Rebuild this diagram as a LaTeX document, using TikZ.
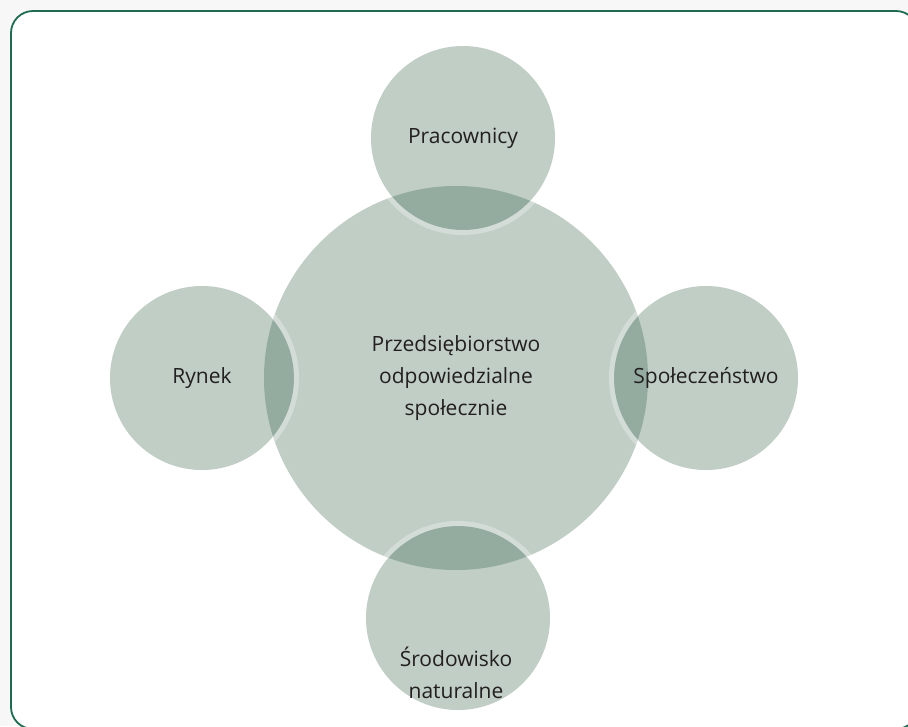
\documentclass[tikz,border=0pt]{standalone}
\usepackage{fontspec}
\setmainfont{Open Sans}
\definecolor{frame}{HTML}{1E6B50}
\definecolor{circfill}{HTML}{C0CEC5}
\definecolor{lensfill}{HTML}{93AC9F}
\definecolor{txt}{HTML}{231F20}
\definecolor{bggray}{HTML}{F7F7F7}
\begin{document}
\begin{tikzpicture}[x=1pt,y=-1pt,
  lbl/.style={text=txt,font=\fontsize{21}{32}\selectfont,align=center,inner sep=0pt}]
\useasboundingbox (0,0) rectangle (908,726);
\fill[bggray] (0,0) rectangle (908,726);
\begin{scope}
\clip (0,0) rectangle (908,726);
\draw[frame,line width=1.8pt,fill=white,rounded corners=22pt] (11,11) rectangle (918,729);
\end{scope}
% circles
\coordinate (C) at (456,378);
\coordinate (T) at (463,138);
\coordinate (B) at (458,618);
\coordinate (L) at (202,378);
\coordinate (R) at (706,378);
\fill[circfill] (C) circle (192);
\foreach \p in {T,B,L,R} \fill[circfill] (\p) circle (92);
\begin{scope}
\clip (C) circle (192);
\foreach \p in {T,B,L,R} {
  \fill[lensfill] (\p) circle (92);
  \draw[white,opacity=0.3,line width=5pt] (\p) circle (94.5);
}
\end{scope}
\node[lbl] (t) at (T) {Pracownicy};
\node[lbl] (c) at (C) {Przedsiębiorstwo\\odpowiedzialne\\społecznie};
\node[lbl] (l) at (L) {Rynek};
\node[lbl] (r) at (R) {Społeczeństwo};
\node[lbl] (b) at (456,673) {Środowisko\\naturalne};
\end{tikzpicture}
\end{document}
